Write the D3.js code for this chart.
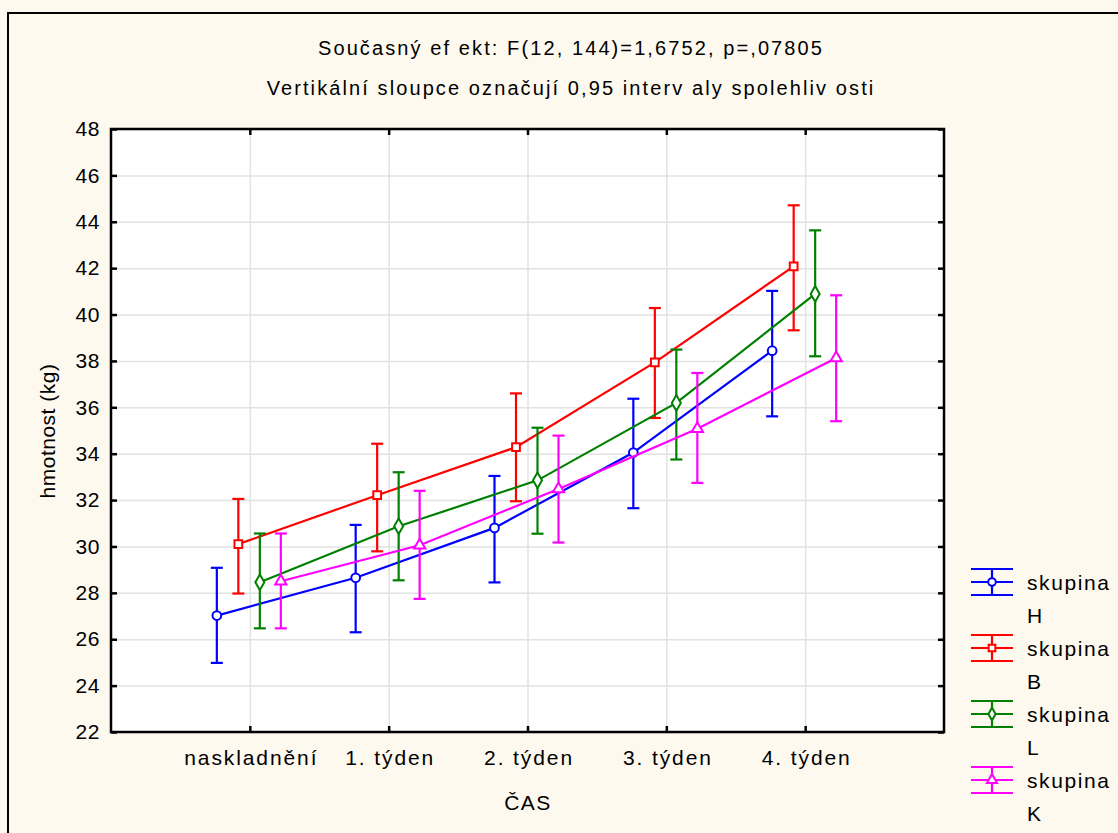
<!DOCTYPE html>
<html><head><meta charset="utf-8">
<script src="https://cdn.jsdelivr.net/npm/d3@7"></script>
<style>
body{margin:0;background:#fdf9ef}
svg{display:block}
text{font-family:"Liberation Sans",Arial,sans-serif;fill:#000}
</style>
</head><body>
<svg id="c" width="1118" height="833"></svg>
<script>
// ---- data ----
const categories = ["naskladnění", "1. týden", "2. týden", "3. týden", "4. týden"];
const seriesNames = ["H", "B", "L", "K"];
const meanH = [27.02, 28.65, 30.80, 34.05, 38.44];
const lowH  = [24.98, 26.30, 28.45, 31.65, 35.61];
const highH = [29.08, 30.93, 33.04, 36.37, 41.02];
const meanB = [30.10, 32.21, 34.28, 37.94, 42.08];
const lowB  = [27.97, 29.79, 31.95, 35.54, 39.32];
const highB = [32.05, 34.43, 36.60, 40.28, 44.71];
const meanL = [28.46, 30.87, 32.85, 36.19, 40.89];
const lowL  = [26.47, 28.54, 30.55, 33.75, 38.20];
const highL = [30.56, 33.20, 35.12, 38.49, 43.63];
const meanK = [28.50, 30.05, 32.48, 35.08, 38.13];
const lowK  = [26.47, 27.74, 30.17, 32.74, 35.40];
const highK = [30.56, 32.40, 34.78, 37.48, 40.83];
const yTicks = [22, 24, 26, 28, 30, 32, 34, 36, 38, 40, 42, 44, 46, 48];
const titleLine1 = "Současný ef ekt: F(12, 144)=1,6752, p=,07805";
const titleLine2 = "Vertikální sloupce označují 0,95 interv aly spolehliv osti";
const xTitle = "ČAS";
const yTitle = "hmotnost (kg)";
const legendWord = "skupina";

// ---- layout / style ----
const L = 111, R = 944, T = 129, B = 732;
const colors = ["#0000ff", "#ff0000", "#008000", "#ff00ff"];
const symbols = [d3.symbolCircle, d3.symbolSquare, d3.symbolDiamond, d3.symbolTriangle];
const symSizes = [60, 60, 70, 55];
const offsets = [-33, -11.5, 10, 31];
const series = [
  {name: seriesNames[0], mean: meanH, low: lowH, high: highH},
  {name: seriesNames[1], mean: meanB, low: lowB, high: highB},
  {name: seriesNames[2], mean: meanL, low: lowL, high: highL},
  {name: seriesNames[3], mean: meanK, low: lowK, high: highK}
];

const svg = d3.select("#c");
svg.append("rect").attr("x", 8).attr("y", 13).attr("width", 1130).attr("height", 840)
  .attr("fill", "#fdf9ef").attr("stroke", "#000").attr("stroke-width", 2);

const x = d3.scaleLinear().domain([-1, 5]).range([L, R]);
const y = d3.scaleLinear().domain([22, 48]).range([B, T]);
const idx = categories.map((c, i) => i);

svg.append("rect").attr("x", L).attr("y", T).attr("width", R - L).attr("height", B - T).attr("fill", "#fff");

// grid
const gy = svg.append("g").attr("transform", `translate(${L},0)`)
  .call(d3.axisLeft(y).tickValues(yTicks).tickSize(-(R - L)).tickFormat(""));
const gx = svg.append("g").attr("transform", `translate(0,${B})`)
  .call(d3.axisBottom(x).tickValues(idx).tickSize(-(B - T)).tickFormat(""));
[gy, gx].forEach(g => {
  g.select(".domain").remove();
  g.selectAll("line").attr("stroke", "#e2e2e2").attr("stroke-width", 1.5);
});

// axes with inward ticks
const fontSize = 21;
const ax = [];
ax.push(svg.append("g").attr("transform", `translate(${L},0)`)
  .call(d3.axisLeft(y).tickValues(yTicks).tickSizeInner(-6).tickSizeOuter(0).tickPadding(11)));
ax.push(svg.append("g").attr("transform", `translate(${R},0)`)
  .call(d3.axisRight(y).tickValues(yTicks).tickSizeInner(-6).tickSizeOuter(0).tickFormat("")));
ax.push(svg.append("g").attr("transform", `translate(0,${B})`)
  .call(d3.axisBottom(x).tickValues(idx).tickSizeInner(-6).tickSizeOuter(0).tickPadding(18)
    .tickFormat(i => categories[i])));
ax.push(svg.append("g").attr("transform", `translate(0,${T})`)
  .call(d3.axisTop(x).tickValues(idx).tickSizeInner(-6).tickSizeOuter(0).tickFormat("")));
ax.forEach(g => {
  g.select(".domain").remove();
  g.selectAll("line").attr("stroke", "#000").attr("stroke-width", 2.5);
  g.selectAll("text").attr("font-size", fontSize).attr("font-family", "Liberation Sans, Arial, sans-serif")
    .attr("fill", "#000").attr("letter-spacing", "1.2px");
});
ax[2].selectAll("text").attr("letter-spacing", "1.9px").attr("dx", "1px");
ax[0].selectAll("text").attr("letter-spacing", "0.6px");
svg.append("rect").attr("x", L).attr("y", T).attr("width", R - L).attr("height", B - T)
  .attr("fill", "none").attr("stroke", "#000").attr("stroke-width", 2.5);

// series
const capW = 6;
series.forEach((s, k) => {
  const g = svg.append("g");
  const px = i => x(i) + offsets[k];
  const line = d3.line().x((d, i) => px(i)).y(d => y(d));
  g.append("path").datum(s.mean).attr("d", line).attr("fill", "none")
    .attr("stroke", colors[k]).attr("stroke-width", 2.2);
  idx.forEach(i => {
    const xx = px(i);
    g.append("line").attr("x1", xx).attr("x2", xx).attr("y1", y(s.low[i])).attr("y2", y(s.high[i]))
      .attr("stroke", colors[k]).attr("stroke-width", 2.2);
    [s.low[i], s.high[i]].forEach(v => {
      g.append("line").attr("x1", xx - capW).attr("x2", xx + capW).attr("y1", y(v)).attr("y2", y(v))
        .attr("stroke", colors[k]).attr("stroke-width", 2.2);
    });
    g.append("path").attr("d", d3.symbol(symbols[k], symSizes[k])())
      .attr("transform", `translate(${xx},${y(s.mean[i])})`)
      .attr("fill", "#fff").attr("stroke", colors[k]).attr("stroke-width", 2);
  });
});

// titles
svg.append("text").attr("x", 571).attr("y", 55).attr("text-anchor", "middle").attr("font-size", 20)
  .attr("letter-spacing", "2.1px").text(titleLine1);
svg.append("text").attr("x", 571).attr("y", 95).attr("text-anchor", "middle").attr("font-size", 20)
  .attr("letter-spacing", "2.1px").text(titleLine2);
svg.append("text").attr("x", 528).attr("y", 810).attr("text-anchor", "middle").attr("font-size", fontSize)
  .attr("letter-spacing", "1.5px").text(xTitle);
svg.append("text").attr("transform", "translate(55,431) rotate(-90)").attr("text-anchor", "middle")
  .attr("font-size", fontSize).attr("letter-spacing", "0.5px").text(yTitle);

// legend
series.forEach((s, k) => {
  const cy = 582 + 66 * k;
  const g = svg.append("g");
  [-13, 0, 13].forEach(d => g.append("line").attr("x1", 971).attr("x2", 1013).attr("y1", cy + d).attr("y2", cy + d)
    .attr("stroke", colors[k]).attr("stroke-width", 2.2));
  g.append("line").attr("x1", 992).attr("x2", 992).attr("y1", cy - 13).attr("y2", cy + 13)
    .attr("stroke", colors[k]).attr("stroke-width", 2.2);
  g.append("path").attr("d", d3.symbol(symbols[k], 45)()).attr("transform", `translate(992,${cy})`)
    .attr("fill", "#fff").attr("stroke", colors[k]).attr("stroke-width", 2);
  g.append("text").attr("x", 1027).attr("y", cy + 8).attr("font-size", fontSize)
    .attr("letter-spacing", "1.6px").text(legendWord);
  g.append("text").attr("x", 1027).attr("y", cy + 41).attr("font-size", fontSize).text(s.name);
});
</script>
</body></html>
